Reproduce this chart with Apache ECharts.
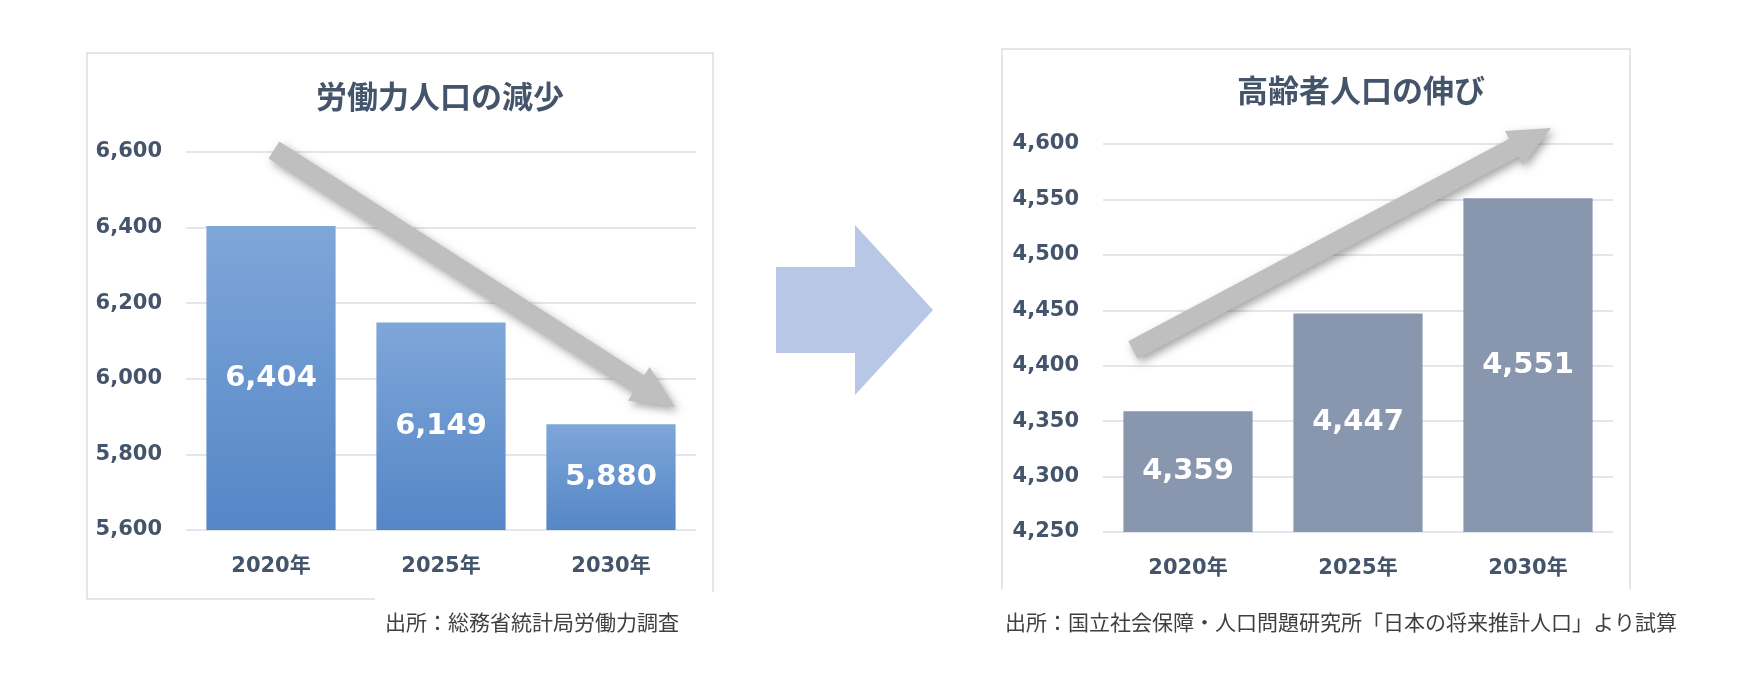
<!DOCTYPE html>
<html>
<head>
<meta charset="utf-8">
<title>労働力人口の減少 / 高齢者人口の伸び</title>
<script src="https://cdn.jsdelivr.net/npm/echarts/dist/echarts.min.js"></script>
<style>
  html, body { margin: 0; padding: 0; background: #fff; }
  #chart { width: 1759px; height: 682px; }
</style>
</head>
<body>
<div id="chart"></div>
<script>
// data
const years = ['2020年', '2025年', '2030年'];
const laborForce = [6404, 6149, 5880];
const elderly = [4359, 4447, 4551];
const laborAxis = [5600, 6600, 200];   // min, max, interval
const elderlyAxis = [4250, 4600, 50];
const titles = ['労働力人口の減少', '高齢者人口の伸び'];
const sources = ['出所：総務省統計局労働力調査', '出所：国立社会保障・人口問題研究所「日本の将来推計人口」より試算'];

const slate = '#44546A';
const gridLine = '#D9DEE7';
const numFont = '"DejaVu Sans", "Noto Sans CJK JP", sans-serif';
const jpFont = '"Noto Sans CJK JP", sans-serif';

const chart = echarts.init(document.getElementById('chart'));

// gray trend arrow polygon (decoration)
function arrowPoints(x1, y1, x2, y2, shaft, head, headLen) {
  const len = Math.hypot(x2 - x1, y2 - y1);
  const ux = (x2 - x1) / len, uy = (y2 - y1) / len;
  const nx = -uy, ny = ux;
  const bx = x2 - ux * headLen, by = y2 - uy * headLen;
  return [
    [x1 + nx * shaft, y1 + ny * shaft],
    [bx + nx * shaft, by + ny * shaft],
    [bx + nx * head, by + ny * head],
    [x2, y2],
    [bx - nx * head, by - ny * head],
    [bx - nx * shaft, by - ny * shaft],
    [x1 - nx * shaft, y1 - ny * shaft]
  ];
}

function trendArrow(pts) {
  return {
    type: 'polygon', z: 100,
    shape: { points: pts },
    style: {
      fill: '#BFBFBF',
      shadowBlur: 8, shadowOffsetX: 3, shadowOffsetY: 4,
      shadowColor: 'rgba(0,0,0,0.35)'
    }
  };
}

function yAxisFor(range, gridIndex) {
  return {
    type: 'value', gridIndex: gridIndex,
    min: range[0], max: range[1], interval: range[2],
    axisLine: { show: false }, axisTick: { show: false },
    splitLine: { lineStyle: { color: gridLine, width: 1.5 } },
    axisLabel: {
      margin: 24, color: slate, fontSize: 21, fontWeight: 'bold', fontFamily: numFont,
      formatter: v => echarts.format.addCommas(v)
    }
  };
}

function xAxisFor(gridIndex) {
  return {
    type: 'category', gridIndex: gridIndex, data: years,
    axisLine: { show: false }, axisTick: { show: false },
    axisLabel: {
      margin: 26, color: slate, fontSize: 21, fontWeight: 'bold', fontFamily: numFont
    }
  };
}

const barLabel = {
  show: true, position: 'inside', color: '#fff',
  fontSize: 29, fontWeight: 'bold', fontFamily: numFont,
  formatter: p => echarts.format.addCommas(p.value)
};

const option = {
  backgroundColor: '#fff',
  animation: false,
  title: [
    { text: titles[0], left: 440, top: 81, textAlign: 'center', padding: 0,
      textStyle: { color: slate, fontSize: 31, fontWeight: 'bold', fontFamily: jpFont } },
    { text: titles[1], left: 1361, top: 75, textAlign: 'center', padding: 0,
      textStyle: { color: slate, fontSize: 31, fontWeight: 'bold', fontFamily: jpFont } }
  ],
  grid: [
    { left: 186, right: 1063, top: 152, bottom: 152 },
    { left: 1103, right: 146, top: 144, bottom: 150 }
  ],
  xAxis: [xAxisFor(0), xAxisFor(1)],
  yAxis: [yAxisFor(laborAxis, 0), yAxisFor(elderlyAxis, 1)],
  series: [
    {
      type: 'bar', xAxisIndex: 0, yAxisIndex: 0, data: laborForce,
      barWidth: '76%',
      itemStyle: {
        color: new echarts.graphic.LinearGradient(0, 0, 0, 1, [
          { offset: 0, color: '#7EA6D9' },
          { offset: 1, color: '#5586C6' }
        ])
      },
      label: barLabel
    },
    {
      type: 'bar', xAxisIndex: 1, yAxisIndex: 1, data: elderly,
      barWidth: '76%',
      itemStyle: { color: '#8896AE' },
      label: barLabel
    }
  ],
  graphic: [
    // panel frames
    { type: 'rect', z: -10, shape: { x: 87, y: 53, width: 626, height: 546 },
      style: { fill: 'none', stroke: '#DADDE3', lineWidth: 1.5 } },
    { type: 'rect', z: -10, shape: { x: 1002, y: 49, width: 628, height: 550 },
      style: { fill: 'none', stroke: '#DADDE3', lineWidth: 1.5 } },
    // source notes sit on white boxes over the frame corners
    { type: 'rect', z: -5, shape: { x: 375, y: 592, width: 400, height: 60 },
      style: { fill: '#fff' } },
    { type: 'rect', z: -5, shape: { x: 990, y: 589, width: 700, height: 60 },
      style: { fill: '#fff' } },
    { type: 'text', x: 385, y: 622, z: 5,
      style: { text: sources[0], fill: '#404040', fontSize: 21, fontFamily: jpFont, verticalAlign: 'middle' } },
    { type: 'text', x: 1005, y: 622, z: 5,
      style: { text: sources[1], fill: '#404040', fontSize: 21, fontFamily: jpFont, verticalAlign: 'middle' } },
    // big arrow between panels
    { type: 'polygon', z: 5,
      shape: { points: [[776, 267], [855, 267], [855, 225], [933, 310], [855, 395], [855, 353], [776, 353]] },
      style: { fill: '#B7C7E5' } },
    trendArrow(arrowPoints(274, 150, 675, 407, 10, 20, 43)),
    trendArrow(arrowPoints(1133, 350, 1551, 128, 10, 19, 42))
  ]
};

chart.setOption(option);
</script>
</body>
</html>
